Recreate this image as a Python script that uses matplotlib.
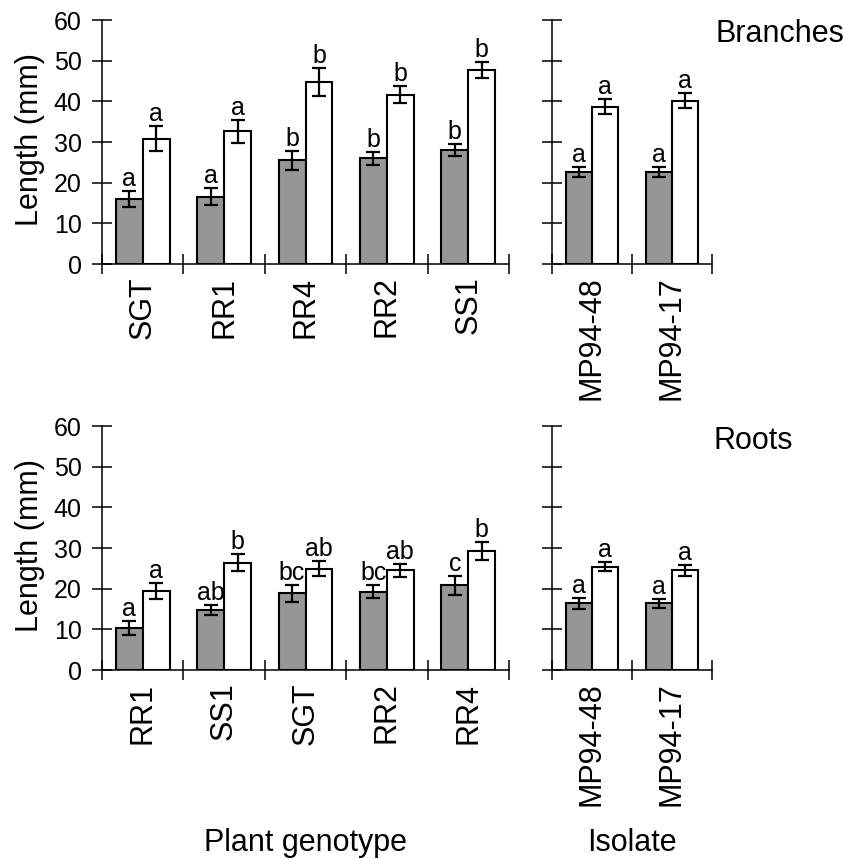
import matplotlib
matplotlib.use("Agg")
import matplotlib.pyplot as plt
import numpy as np

plt.rcParams['font.family'] = ['Liberation Sans', 'DejaVu Sans']

# ---- data ----
branch_genotypes = ['SGT', 'RR1', 'RR4', 'RR2', 'SS1']
branch_gray = [16.0, 16.5, 25.5, 26.0, 28.0]
branch_gray_err = [1.9, 2.1, 2.4, 1.6, 1.4]
branch_gray_let = ['a', 'a', 'b', 'b', 'b']
branch_white = [30.8, 32.6, 44.8, 41.6, 47.7]
branch_white_err = [3.1, 2.8, 3.5, 2.1, 2.0]
branch_white_let = ['a', 'a', 'b', 'b', 'b']

isolates = ['MP94-48', 'MP94-17']
branch_iso_gray = [22.6, 22.6]
branch_iso_gray_err = [1.3, 1.2]
branch_iso_gray_let = ['a', 'a']
branch_iso_white = [38.7, 40.2]
branch_iso_white_err = [1.85, 1.9]
branch_iso_white_let = ['a', 'a']

root_genotypes = ['RR1', 'SS1', 'SGT', 'RR2', 'RR4']
root_gray = [10.3, 14.7, 18.9, 19.3, 20.8]
root_gray_err = [1.7, 1.2, 2.1, 1.6, 2.4]
root_gray_let = ['a', 'ab', 'bc', 'bc', 'c']
root_white = [19.4, 26.4, 24.9, 24.5, 29.2]
root_white_err = [2.0, 2.1, 1.8, 1.6, 2.2]
root_white_let = ['a', 'b', 'ab', 'ab', 'b']

root_iso_gray = [16.4, 16.4]
root_iso_gray_err = [1.35, 1.15]
root_iso_gray_let = ['a', 'a']
root_iso_white = [25.4, 24.5]
root_iso_white_err = [1.15, 1.4]
root_iso_white_let = ['a', 'a']

yticks = [0, 10, 20, 30, 40, 50, 60]

GRAY = '#969696'
W, H = 843, 859
fig = plt.figure(figsize=(W / 100, H / 100), dpi=100)


def px_axes(x0, x1, ytop, ybot):
    return fig.add_axes([x0 / W, 1 - ybot / H, (x1 - x0) / W, (ybot - ytop) / H])


def draw(ax, cats, g, ge, gl, w, we, wl, show_ylabels):
    n = len(cats)
    centers = np.arange(n) + 0.5
    bw = 0.33
    ax.bar(centers - bw / 2, g, width=bw, color=GRAY, edgecolor='black', linewidth=1.5, zorder=2)
    ax.bar(centers + bw / 2, w, width=bw, color='white', edgecolor='black', linewidth=1.5, zorder=2)
    ax.errorbar(centers - bw / 2, g, yerr=ge, fmt='none', ecolor='black', elinewidth=1.6,
                capsize=5, capthick=1.6, zorder=3)
    ax.errorbar(centers + bw / 2, w, yerr=we, fmt='none', ecolor='black', elinewidth=1.6,
                capsize=5, capthick=1.6, zorder=3)
    for x, v, e, l in zip(centers - bw / 2, g, ge, gl):
        ax.annotate(l, (x, v + e), xytext=(0, 0), textcoords='offset points',
                    ha='center', va='bottom', fontsize=18)
    for x, v, e, l in zip(centers + bw / 2, w, we, wl):
        ax.annotate(l, (x, v + e), xytext=(0, 0), textcoords='offset points',
                    ha='center', va='bottom', fontsize=18)
    ax.set_xlim(0, n)
    ax.set_ylim(0, 60)
    for s in ['top', 'right']:
        ax.spines[s].set_visible(False)
    for s in ['left', 'bottom']:
        ax.spines[s].set_linewidth(1.1)
    ax.set_yticks(yticks)
    ax.set_xticks(np.arange(n + 1))
    ax.set_xticklabels([])
    ax.set_xticks(centers, minor=True)
    ax.set_xticklabels(cats, minor=True, rotation=90, fontsize=22)
    ax.tick_params(axis='x', which='major', direction='inout', length=15, width=1.1)
    ax.tick_params(axis='x', which='minor', length=0, pad=9)
    ax.tick_params(axis='y', direction='inout', length=15, width=1.1, pad=7, labelsize=18)
    if not show_ylabels:
        ax.set_yticklabels([])
    ax.patch.set_alpha(0)


ax1 = px_axes(102, 509, 20, 264)
draw(ax1, branch_genotypes, branch_gray, branch_gray_err, branch_gray_let,
     branch_white, branch_white_err, branch_white_let, True)
ax2 = px_axes(552, 712, 20, 264)
draw(ax2, isolates, branch_iso_gray, branch_iso_gray_err, branch_iso_gray_let,
     branch_iso_white, branch_iso_white_err, branch_iso_white_let, False)
ax3 = px_axes(102, 509, 426, 670)
draw(ax3, root_genotypes, root_gray, root_gray_err, root_gray_let,
     root_white, root_white_err, root_white_let, True)
ax4 = px_axes(552, 712, 426, 670)
draw(ax4, isolates, root_iso_gray, root_iso_gray_err, root_iso_gray_let,
     root_iso_white, root_iso_white_err, root_iso_white_let, False)

fs_big = 22
fig.text(30 / W, 1 - 139 / H, 'Length (mm)', rotation=90, ha='center', va='center', fontsize=fs_big)
fig.text(30 / W, 1 - 545 / H, 'Length (mm)', rotation=90, ha='center', va='center', fontsize=fs_big)
fig.text(715 / W, 1 - 34 / H, 'Branches', ha='left', va='center', fontsize=fs_big)
fig.text(713 / W, 1 - 441 / H, 'Roots', ha='left', va='center', fontsize=fs_big)
fig.text(305 / W, 1 - 843 / H, 'Plant genotype', ha='center', va='center', fontsize=fs_big)
fig.text(632 / W, 1 - 843 / H, 'Isolate', ha='center', va='center', fontsize=fs_big)

fig.savefig('out.png', dpi=100)
